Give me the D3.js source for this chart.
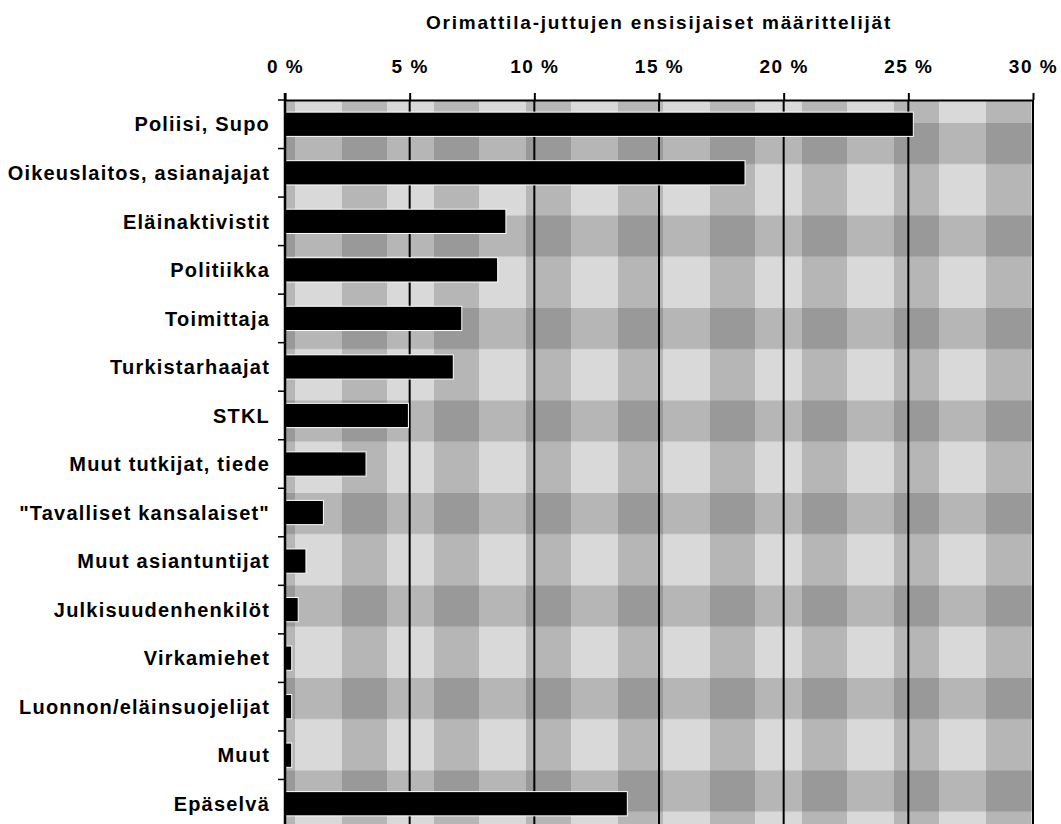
<!DOCTYPE html>
<html>
<head>
<meta charset="utf-8">
<script src="https://cdn.jsdelivr.net/npm/d3@7"></script>
<style>
  body { margin: 0; background: #fff; }
  svg text { font-family: 'Liberation Sans', Arial, sans-serif; font-weight: bold; fill: #000; }
</style>
</head>
<body>
<div id="chart"></div>
<script>
const title = 'Orimattila-juttujen ensisijaiset määrittelijät'

const categories = [
  'Poliisi, Supo',
  'Oikeuslaitos, asianajajat',
  'Eläinaktivistit',
  'Politiikka',
  'Toimittaja',
  'Turkistarhaajat',
  'STKL',
  'Muut tutkijat, tiede',
  '"Tavalliset kansalaiset"',
  'Muut asiantuntijat',
  'Julkisuudenhenkilöt',
  'Virkamiehet',
  'Luonnon/eläinsuojelijat',
  'Muut',
  'Epäselvä'
]

// share of stories, percent
const values = [25.2, 18.45, 8.86, 8.53, 7.09, 6.75, 4.95, 3.25, 1.54, 0.84, 0.53, 0.27, 0.27, 0.27, 13.73]

const xTicks = [0, 5, 10, 15, 20, 25, 30]

const margin = { top: 100, left: 285, right: 28, bottom: -4 }
const width = 1061 - margin.left - margin.right
const height = 824 - margin.top - margin.bottom

const datapoints = categories.map((c, i) => ({ name: c, value: values[i] }))

const svg = d3
  .select('#chart')
  .append('svg')
  .attr('width', 1061)
  .attr('height', 824)

// gingham background
const defs = svg.append('defs')
const pat = defs
  .append('pattern')
  .attr('id', 'check')
  .attr('patternUnits', 'userSpaceOnUse')
  .attr('x', 333)
  .attr('y', 393)
  .attr('width', 92)
  .attr('height', 92.5)
pat.append('rect').attr('width', 92).attr('height', 92.5).attr('fill', '#d9d9d9')
pat.append('rect').attr('width', 45).attr('height', 92.5).attr('fill', '#000').attr('fill-opacity', 0.16)
pat.append('rect').attr('width', 92).attr('height', 41).attr('fill', '#000').attr('fill-opacity', 0.16)

const g = svg
  .append('g')
  .attr('transform', 'translate(' + margin.left + ',' + margin.top + ')')

const xPositionScale = d3.scaleLinear().domain([0, 30]).range([0, width])
const yPositionScale = d3
  .scaleBand()
  .domain(categories)
  .range([0, height])
  .paddingInner(0.5)
  .paddingOuter(0.25)

g.append('rect')
  .attr('width', width)
  .attr('height', height)
  .attr('fill', 'url(#check)')

// vertical grid lines
g.selectAll('.grid')
  .data(xTicks.slice(1))
  .enter()
  .append('line')
  .attr('class', 'grid')
  .attr('x1', d => xPositionScale(d))
  .attr('x2', d => xPositionScale(d))
  .attr('y1', 0)
  .attr('y2', height)
  .attr('stroke', '#000')
  .attr('stroke-width', 2)

g.selectAll('.bar')
  .data(datapoints)
  .enter()
  .append('rect')
  .attr('class', 'bar')
  .attr('x', 0)
  .attr('y', d => yPositionScale(d.name))
  .attr('width', d => xPositionScale(d.value))
  .attr('height', yPositionScale.bandwidth())
  .attr('fill', '#000')
  .attr('stroke', '#fff')
  .attr('stroke-width', 1)

// top axis
const xAxis = d3
  .axisTop(xPositionScale)
  .tickValues(xTicks)
  .tickFormat(d => d + ' %')
  .tickSize(7)
  .tickPadding(20)
  .tickSizeOuter(0)

const xg = g.append('g').attr('class', 'x-axis').call(xAxis)
xg.select('.domain').attr('stroke', '#000').attr('stroke-width', 2)
xg.selectAll('.tick line').attr('stroke', '#000').attr('stroke-width', 2)
xg.selectAll('.tick text')
  .style('font-size', '19px')
  .style('letter-spacing', '1.5px')
  .attr('fill', '#000')

// left axis with labels
const yAxis = d3
  .axisLeft(yPositionScale)
  .tickSize(0)
  .tickPadding(15)

const yg = g.append('g').attr('class', 'y-axis').call(yAxis)
yg.select('.domain').remove()
yg.selectAll('.tick text')
  .style('font-size', '20px')
  .style('letter-spacing', '1.2px')
  .attr('fill', '#000')
  .attr('dy', '0.36em')

// ticks between categories
const step = yPositionScale.step()
g.selectAll('.sep')
  .data(categories)
  .enter()
  .append('line')
  .attr('class', 'sep')
  .attr('x1', -7)
  .attr('x2', 0)
  .attr('y1', d => yPositionScale(d) - step * 0.25)
  .attr('y2', d => yPositionScale(d) - step * 0.25)
  .attr('stroke', '#000')
  .attr('stroke-width', 1.5)

g.append('line')
  .attr('x1', 0)
  .attr('x2', 0)
  .attr('y1', -7)
  .attr('y2', height)
  .attr('stroke', '#000')
  .attr('stroke-width', 2.5)

svg
  .append('text')
  .attr('x', margin.left + width / 2)
  .attr('y', 29)
  .attr('text-anchor', 'middle')
  .style('font-size', '19px')
  .style('letter-spacing', '1.8px')
  .text(title)
</script>
</body>
</html>
